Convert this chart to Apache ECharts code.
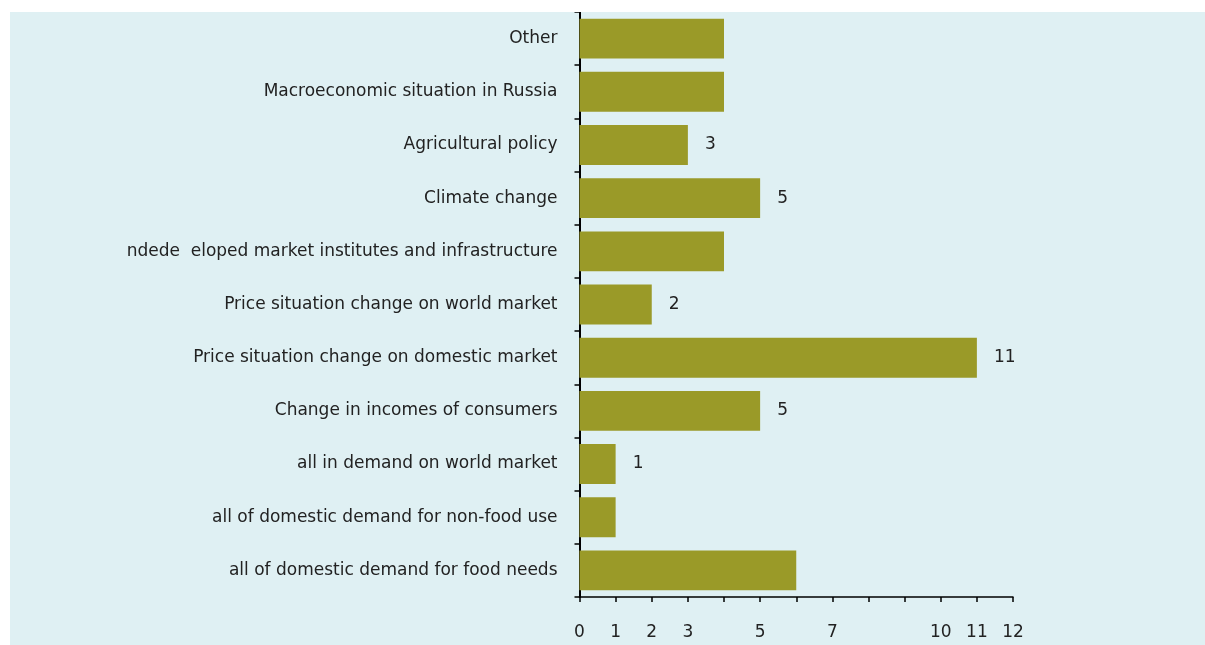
<!DOCTYPE html>
<html>
<head>
<meta charset="utf-8">
<script src="https://cdn.jsdelivr.net/npm/echarts@6/dist/echarts.min.js"></script>
<style>
  html, body { margin: 0; padding: 0; background: #ffffff; }
  #chart { position: absolute; left: 10px; top: 12px; width: 1195px; height: 633px; }
</style>
</head>
<body>
<div id="chart"></div>
<script>
// Factors, listed top to bottom as they appear on the chart
const categories = [
  'Other',
  'Macroeconomic situation in Russia',
  'Agricultural policy',
  'Climate change',
  'ndede  eloped market institutes and infrastructure',
  'Price situation change on world market',
  'Price situation change on domestic market',
  'Change in incomes of consumers',
  'all in demand on world market',
  'all of domestic demand for non-food use',
  'all of domestic demand for food needs'
];
const values = [4, 4, 3, 5, 4, 2, 11, 5, 1, 1, 6];
// Which bars carry a value label
const labelled = [false, false, true, true, false, true, true, true, true, false, false];
// Tick values that get a text label on the value axis
const tickLabels = [0, 1, 2, 3, 5, 7, 10, 11, 12];

const font = '"DejaVu Sans", Verdana, sans-serif';

const chart = echarts.init(document.getElementById('chart'), null, { renderer: 'canvas' });
chart.setOption({
  backgroundColor: '#dff0f3',
  animation: false,
  grid: { left: 569.5, right: 192, top: 0, bottom: 48, containLabel: false },
  xAxis: {
    type: 'value',
    min: 0,
    max: 12,
    interval: 1,
    splitLine: { show: false },
    axisLine: { show: true, onZero: false, lineStyle: { color: '#000', width: 1.5 } },
    axisTick: { show: true, length: 5, lineStyle: { color: '#000', width: 1.5 } },
    axisLabel: {
      margin: 27,
      color: '#222',
      fontSize: 17,
      fontFamily: font,
      formatter: v => tickLabels.includes(v) ? String(v) : ''
    }
  },
  yAxis: {
    type: 'category',
    inverse: true,
    data: categories,
    axisLine: { show: true, lineStyle: { color: '#000', width: 2 } },
    axisTick: { show: true, length: 5, lineStyle: { color: '#000', width: 1.5 } },
    axisLabel: { margin: 22, color: '#222', fontSize: 17, fontFamily: font }
  },
  series: [{
    type: 'bar',
    barCategoryGap: '25%',
    itemStyle: { color: '#9a9a28' },
    label: {
      position: 'right',
      distance: 17,
      color: '#222',
      fontSize: 17,
      fontFamily: font
    },
    data: values.map((v, i) => ({ value: v, label: { show: labelled[i] } }))
  }]
});
</script>
</body>
</html>
